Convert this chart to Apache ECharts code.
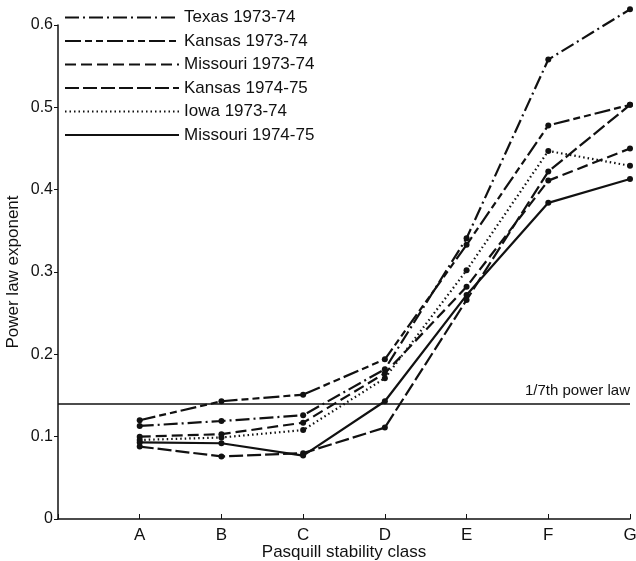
<!DOCTYPE html>
<html>
<head>
<meta charset="utf-8">
<script src="https://cdn.jsdelivr.net/npm/echarts@6/dist/echarts.min.js"></script>
<style>
  html, body { margin: 0; padding: 0; background: #fff; }
  #chart { width: 636px; height: 561px; }
</style>
</head>
<body>
<div id="chart"></div>
<script>
// stability classes, placed at x = 1..7
const classes = ['A', 'B', 'C', 'D', 'E', 'F', 'G'];

const texas7374 = [0.113, 0.119, 0.126, 0.182, 0.341, 0.558, 0.619];
const kansas7374 = [0.120, 0.143, 0.151, 0.194, 0.333, 0.478, 0.503];
const missouri7374 = [0.100, 0.103, 0.117, 0.177, 0.282, 0.411, 0.450];
const kansas7475 = [0.088, 0.076, 0.080, 0.111, 0.266, 0.422, 0.503];
const iowa7374 = [0.096, 0.099, 0.108, 0.171, 0.302, 0.447, 0.429];
const missouri7475 = [0.093, 0.092, 0.077, 0.143, 0.272, 0.384, 0.413];

const seventhPower = 1 / 7;

const font = 'Liberation Sans';
const ink = '#111';

function pts(vals) {
  return vals.map((v, i) => [i + 1, v]);
}

function line(name, vals, dash) {
  return {
    name: name,
    type: 'line',
    data: pts(vals),
    clip: false,
    symbol: 'circle',
    symbolSize: 6,
    itemStyle: { color: ink },
    lineStyle: { color: ink, width: 2.2, type: dash },
    z: 3
  };
}

const series = [
  line('Texas 1973-74', texas7374, [14, 4, 2, 4]),
  line('Kansas 1973-74', kansas7374, [16, 4, 7, 4, 7, 4]),
  line('Missouri 1973-74', missouri7374, [11, 5]),
  line('Kansas 1974-75', kansas7475, [14, 4]),
  line('Iowa 1973-74', iowa7374, [1.5, 3]),
  line('Missouri 1974-75', missouri7475, 'solid')
];

// 1/7th power law reference line
series.push({
  type: 'line',
  data: [],
  markLine: {
    silent: true,
    symbol: 'none',
    lineStyle: { color: ink, width: 1.5, type: 'solid' },
    label: {
      position: 'insideEndTop',
      formatter: '1/7th power law',
      color: ink,
      fontFamily: font,
      fontSize: 15,
      distance: [0, 5]
    },
    data: [{ yAxis: seventhPower }]
  }
});

const chart = echarts.init(document.getElementById('chart'));
chart.setOption({
  backgroundColor: '#fff',
  animation: false,
  textStyle: { fontFamily: font, color: ink },
  grid: { left: 58, right: 6, top: 25, bottom: 42, containLabel: false, outerBoundsMode: 'none' },
  legend: {
    orient: 'vertical',
    left: 59,
    top: 4,
    itemWidth: 114,
    itemHeight: 14,
    itemGap: 6.5,
    itemStyle: { color: 'rgba(0,0,0,0)', borderWidth: 0 },
    textStyle: { fontFamily: font, fontSize: 17, color: ink },
    data: series.slice(0, 6).map(s => s.name)
  },
  xAxis: {
    type: 'value',
    min: 0,
    max: 7,
    interval: 1,
    name: 'Pasquill stability class',
    nameLocation: 'middle',
    nameGap: 25,
    nameMoveOverlap: false,
    nameTextStyle: { fontFamily: font, fontSize: 17, color: ink },
    axisLine: { lineStyle: { color: ink, width: 1.5 } },
    axisTick: { inside: true, length: 5, lineStyle: { color: ink } },
    axisLabel: {
      fontFamily: font,
      fontSize: 17,
      color: ink,
      margin: 8,
      formatter: v => (v >= 1 ? classes[v - 1] : '')
    },
    splitLine: { show: false }
  },
  yAxis: {
    type: 'value',
    min: 0,
    max: 0.6,
    interval: 0.1,
    name: 'Power law exponent',
    nameLocation: 'middle',
    nameGap: 36,
    nameMoveOverlap: false,
    nameTextStyle: { fontFamily: font, fontSize: 17, color: ink },
    axisLine: { show: true, lineStyle: { color: ink, width: 1.5 } },
    axisTick: { show: true, length: 4, lineStyle: { color: ink } },
    axisLabel: {
      fontFamily: font,
      fontSize: 16,
      color: ink,
      margin: 5,
      formatter: v => (v === 0 ? '0' : v.toFixed(1))
    },
    splitLine: { show: false }
  },
  series: series
});
</script>
</body>
</html>
